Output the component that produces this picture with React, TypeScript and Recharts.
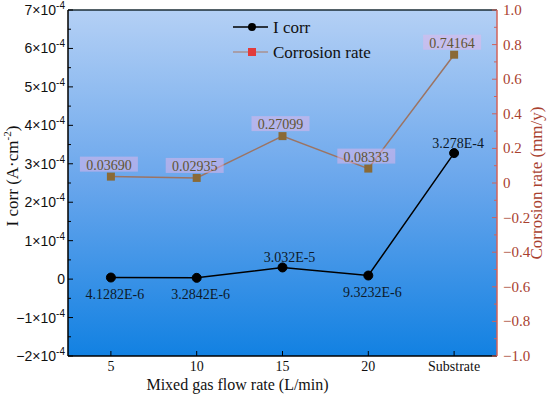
import {
  ComposedChart,
  Line,
  XAxis,
  YAxis,
  CartesianGrid,
  ReferenceLine,
  Legend,
  LabelList,
  Label,
} from "recharts";

const categories = ["5", "10", "15", "20", "Substrate"];
const icorr = [4.1282e-6, 3.2842e-6, 3.032e-5, 9.3232e-6, 3.278e-4];
const corrosionRate = [0.0369, 0.02935, 0.27099, 0.08333, 0.74164];

// left axis in A/cm2, minor ticks halfway between majors
const leftTicks = [
  -2e-4, -1.5e-4, -1e-4, -0.5e-4, 0, 0.5e-4, 1e-4, 1.5e-4, 2e-4, 2.5e-4, 3e-4,
  3.5e-4, 4e-4, 4.5e-4, 5e-4, 5.5e-4, 6e-4, 6.5e-4, 7e-4,
];
const rightTicks = [
  -1, -0.9, -0.8, -0.7, -0.6, -0.5, -0.4, -0.3, -0.2, -0.1, 0, 0.1, 0.2, 0.3,
  0.4, 0.5, 0.6, 0.7, 0.8, 0.9, 1,
];

const data = categories.map((c, i) => ({
  cat: c,
  icorr: icorr[i],
  rate: corrosionRate[i],
}));

const SERIF = "'Liberation Serif', 'Times New Roman', serif";
const SANS = "'Liberation Sans', Arial, sans-serif";
const RED_AXIS = "#d0625a";
const RED_TEXT = "#a9412f";
const RATE_LINE = "#9c7463";
const RATE_MARK = "#8a6a36";

const LeftTick = (props: any) => {
  const { x, y, payload } = props;
  const n = Math.round(payload.value * 1e4 * 2) / 2;
  const major = Number.isInteger(n);
  const ax = x + 6;
  return (
    <g>
      <line x1={ax} x2={ax + (major ? 5 : 3)} y1={y} y2={y} stroke="#000" />
      {major && (
        <text x={x + 3} y={y} dy={5} textAnchor="end" fontFamily={SANS} fontSize={14} fill="#111">
          {n === 0 ? (
            "0"
          ) : (
            <>
              {n < 0 ? "\u2212" : ""}
              {Math.abs(n)}×10
              <tspan dy={-6} fontSize={10}>-4</tspan>
            </>
          )}
        </text>
      )}
    </g>
  );
};

const RightTick = (props: any) => {
  const { x, y, payload } = props;
  const v = payload.value;
  const n = Math.round(v * 10);
  const major = n % 2 === 0;
  const ax = x - 6;
  const txt = n === 0 ? "0" : (v < 0 ? "\u2212" : "") + Math.abs(v).toFixed(1);
  return (
    <g>
      <line x1={ax} x2={ax - (major ? 5 : 3)} y1={y} y2={y} stroke={RED_AXIS} />
      {major && (
        <text x={x} y={y} dy={5} textAnchor="start" fontFamily={SERIF} fontSize={15} fill={RED_TEXT}>
          {txt}
        </text>
      )}
    </g>
  );
};

const XTick = (props: any) => {
  const { x, y, payload } = props;
  const ay = y - 3;
  return (
    <g>
      <line x1={x} x2={x} y1={ay} y2={ay - 5} stroke="#000" />
      <text x={x} y={y} dy={12} textAnchor="middle" fontFamily={SERIF} fontSize={14} fill="#111">
        {payload.value}
      </text>
    </g>
  );
};

const SquareDot = (props: any) => {
  const { cx, cy, index } = props;
  return <rect key={`sq-${index}`} x={cx - 4} y={cy - 4} width={8} height={8} fill={RATE_MARK} />;
};

const IcorrLabel = (props: any) => {
  const { x, y, value, index } = props;
  const above = index === 2 || index === 4;
  const s = Number(value).toExponential().toUpperCase().replace("+", "");
  return (
    <text
      x={x + (index === 2 ? 7 : 4)}
      y={above ? y - 10 : y + 16}
      dy={5}
      textAnchor="middle"
      fontFamily={SERIF}
      fontSize={14}
      fill="#0d1a2a"
    >
      {s}
    </text>
  );
};

const RateLabel = (props: any) => {
  const { x, y, value } = props;
  const s = Number(value).toFixed(5);
  return (
    <g>
      <rect x={x - 31} y={y - 20} width={58} height={15} fill="#e6b6ea" opacity={0.5} />
      <text x={x - 2} y={y - 12} dy={5} textAnchor="middle" fontFamily={SERIF} fontSize={14} fill="#5e5434">
        {s}
      </text>
    </g>
  );
};

const LegendBox = () => (
  <svg width={200} height={60}>
    <line x1={3} x2={38} y1={12} y2={12} stroke="#000" strokeWidth={1.5} />
    <circle cx={22} cy={12} r={4} fill="#000" />
    <text x={43} y={18} fontFamily={SERIF} fontSize={17} fill="#111">I corr</text>
    <line x1={3} x2={38} y1={37} y2={37} stroke="#a89090" strokeWidth={1.5} />
    <rect x={18} y={33} width={8} height={8} fill="#e23c3c" />
    <text x={43} y={43} fontFamily={SERIF} fontSize={17} fill="#111">Corrosion rate</text>
  </svg>
);

export default function App() {
  return (
    <div style={{ position: "absolute", left: 0, top: 0 }}>
      <ComposedChart width={550} height={397} data={data} margin={{ top: 10, right: 0, bottom: 0, left: 0 }}>
        <defs>
          <linearGradient id="plotBg" x1="0" y1="0" x2="0" y2="1">
            <stop offset="0%" stopColor="#b4d0f5" />
            <stop offset="50%" stopColor="#69a6ec" />
            <stop offset="100%" stopColor="#1281e2" />
          </linearGradient>
        </defs>
        <CartesianGrid yAxisId="left" horizontal={false} vertical={false} fill="url(#plotBg)" />
        <XAxis
          dataKey="cat"
          scale="band"
          height={41}
          axisLine={{ stroke: "#000", strokeWidth: 1.5 }}
          tickLine={false}
          tickSize={0}
          tickMargin={3}
          tick={(p: any) => <XTick {...p} />}
          interval={0}
        >
          <Label
            content={(p: any) => {
              const vb = p.viewBox || { x: 68, y: 356, width: 429, height: 41 };
              return (
                <text x={vb.x + vb.width / 2 - 45} y={vb.y + 34} textAnchor="middle" fontFamily={SERIF} fontSize={16} fill="#111">
                  Mixed gas flow rate (L/min)
                </text>
              );
            }}
          />
        </XAxis>
        <YAxis
          yAxisId="left"
          width={68}
          domain={[-2e-4, 7e-4]}
          ticks={leftTicks}
          interval={0}
          axisLine={{ stroke: "#000", strokeWidth: 1.5 }}
          tickLine={false}
          tickSize={0}
          tickMargin={6}
          tick={(p: any) => <LeftTick {...p} />}
        >
          <Label
            content={(p: any) => {
              const vb = p.viewBox || { x: 0, y: 10, width: 68, height: 346 };
              const cx = vb.x + 12;
              const cy = vb.y + vb.height / 2 - 7;
              return (
                <text x={cx} y={cy} transform={`rotate(-90 ${cx} ${cy})`} textAnchor="middle" dy={6} fontFamily={SERIF} fontSize={17} fill="#111">
                  I corr (A·cm<tspan dy={-7} fontSize={11}>-2</tspan>
                  <tspan dy={7}>)</tspan>
                </text>
              );
            }}
          />
        </YAxis>
        <YAxis
          yAxisId="right"
          orientation="right"
          width={53}
          domain={[-1, 1]}
          ticks={rightTicks}
          interval={0}
          axisLine={{ stroke: RED_AXIS, strokeWidth: 1.5 }}
          tickLine={false}
          tickSize={0}
          tickMargin={6}
          tick={(p: any) => <RightTick {...p} />}
        >
          <Label
            content={(p: any) => {
              const vb = p.viewBox || { x: 497, y: 10, width: 53, height: 346 };
              const cx = vb.x + 39;
              const cy = vb.y + vb.height / 2;
              return (
                <text x={cx} y={cy} transform={`rotate(-90 ${cx} ${cy})`} textAnchor="middle" dy={6} fontFamily={SERIF} fontSize={17} fill={RED_TEXT}>
                  Corrosion rate (mm/y)
                </text>
              );
            }}
          />
        </YAxis>
        <ReferenceLine yAxisId="left" y={7e-4} stroke="#1b2c34" strokeWidth={1.5} />
        <Line
          yAxisId="right"
          dataKey="rate"
          stroke={RATE_LINE}
          strokeWidth={1.5}
          dot={SquareDot}
          activeDot={false}
          isAnimationActive={false}
        >
          <LabelList dataKey="rate" content={RateLabel} />
        </Line>
        <Line
          yAxisId="left"
          dataKey="icorr"
          stroke="#000"
          strokeWidth={1.5}
          dot={{ r: 4.5, fill: "#000", stroke: "#000", strokeWidth: 1 }}
          activeDot={false}
          isAnimationActive={false}
        >
          <LabelList dataKey="icorr" content={IcorrLabel} />
        </Line>
        <Legend
          layout="horizontal"
          verticalAlign="middle"
          align="center"
          width={200}
          content={() => <LegendBox />}
          wrapperStyle={{ position: "absolute", left: 230, top: 15, width: 200, height: 60 }}
        />
      </ComposedChart>
    </div>
  );
}
